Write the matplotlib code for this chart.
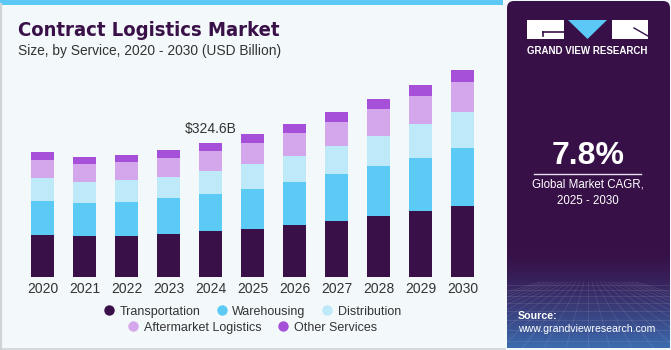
import numpy as np
import matplotlib
matplotlib.use("Agg")
import matplotlib.pyplot as plt
from matplotlib.patches import Rectangle, FancyBboxPatch, Polygon
from matplotlib.lines import Line2D

# ---------------- data ----------------
years = ["2020", "2021", "2022", "2023", "2024", "2025", "2026", "2027", "2028", "2029", "2030"]
transportation = [101.5, 98.3, 99.8, 104.6, 110.4, 116.8, 126.5, 136.3, 147.7, 159.1, 172.0]
warehousing = [82.7, 81.0, 82.7, 86.1, 90.8, 97.3, 103.9, 113.6, 121.7, 130.4, 141.1]
distribution = [56.0, 50.4, 52.0, 52.6, 56.0, 60.1, 64.0, 67.4, 73.7, 81.3, 87.6]
aftermarket = [43.8, 44.5, 43.8, 44.8, 47.9, 51.1, 56.0, 59.9, 65.0, 68.9, 73.7]
other_services = [19.5, 16.3, 17.8, 20.2, 19.5, 21.9, 21.2, 22.9, 24.3, 26.8, 29.2]
series_names = ["Transportation", "Warehousing", "Distribution", "Aftermarket Logistics", "Other Services"]
highlight_year = "2024"
highlight_label = "$324.6B"
cagr_text = "7.8%"
cagr_caption = "Global Market CAGR,\n2025 - 2030"

colors = ["#3a1049", "#5bcaf5", "#bde9f9", "#d4a7ec", "#a64fd8"]
FONT = "Liberation Sans"
W, H = 671, 350

fig = plt.figure(figsize=(W / 100, H / 100), dpi=100)
fig.patch.set_facecolor("#f3f8fb")

# background axes in pixel coordinates (y downwards)
bg = fig.add_axes([0, 0, 1, 1], zorder=0)
bg.set_xlim(0, W)
bg.set_ylim(H, 0)
bg.axis("off")

# left panel
bg.add_patch(Rectangle((0, 0), 505, 349, facecolor="#f3f8fb", edgecolor="none"))
bg.add_patch(Rectangle((0, 0), 503, 4.5, facecolor="#5bc8f5", edgecolor="none"))
bg.plot([0.8, 0.8], [4, 349], color="#cfd3d6", lw=1.6)
bg.plot([0, 505], [348.6, 348.6], color="#cfd3d6", lw=1.2)

# right panel
bg.add_patch(FancyBboxPatch((507, 1), 163, 347, boxstyle="round,pad=0,rounding_size=7",
                            facecolor="#371047", edgecolor="none"))
grad = np.linspace(0, 1, 100)[:, None]
c0 = np.array([0x37, 0x10, 0x47]) / 255
c1 = np.array([0x3c, 0x6c, 0xb0]) / 255
img = np.zeros((100, 2, 4))
img[:, :, :3] = c0 + (c1 - c0) * grad[:, :, None] ** 1.4
img[:, :, 3] = 1
bg.imshow(img, extent=[507, 670, 348, 250], aspect="auto", zorder=1, interpolation="bilinear")
for i in range(-12, 13):
    bg.plot([588 + i * 4, 588 + i * 22], [282, 348], color="white", alpha=0.10, lw=0.6, zorder=2)
for yy in [285, 290, 296, 303, 311, 320, 330, 341]:
    bg.plot([507, 670], [yy, yy], color="white", alpha=0.10, lw=0.6, zorder=2)

# logo
bg.add_patch(Rectangle((527, 20), 36.5, 19, facecolor="white", edgecolor="none", zorder=3))
bg.plot([543, 563.5], [31.5, 31.5], color="#371047", lw=1.2, zorder=4)
bg.plot([543, 543], [31.5, 36], color="#371047", lw=1.2, zorder=4)
bg.add_patch(Polygon([[568, 20], [607, 20], [587.5, 39]], closed=True,
                     facecolor="#5bc8f5", edgecolor="none", zorder=3))
bg.add_patch(Rectangle((611.5, 20), 36.5, 19, facecolor="white", edgecolor="none", zorder=3))
bg.plot([634, 648], [28, 36], color="#371047", lw=1.0, zorder=4)
bg.text(587.5, 51, "GRAND VIEW RESEARCH", color="white", fontsize=7.0, fontweight="bold",
        ha="center", va="center", family=FONT, zorder=3)

bg.text(588, 156, cagr_text, color="white", fontsize=23, fontweight="bold",
        ha="center", va="center", family=FONT, zorder=3)
bg.plot([534, 641], [173.5, 173.5], color="#e8e0ee", lw=1.0, zorder=3)
bg.text(588, 193, cagr_caption, color="white", fontsize=8.3, ha="center", va="center",
        family=FONT, linespacing=1.45, zorder=3)
bg.text(518, 316, "Source:", color="white", fontsize=7.7, fontweight="bold",
        ha="left", va="center", family=FONT, zorder=3)
bg.text(518, 329.5, "www.grandviewresearch.com", color="white", fontsize=7.6,
        ha="left", va="center", family=FONT, zorder=3)

# titles
bg.text(18, 36.5, "Contract Logistics Market", color="#3a1049", fontsize=14.5,
        fontweight="heavy", fontstretch="condensed", ha="left", va="baseline",
        family="DejaVu Sans")
bg.text(18, 54.5, "Size, by Service, 2020 - 2030 (USD Billion)", color="#333333",
        fontsize=9.9, ha="left", va="baseline", family=FONT)

# ---------------- chart ----------------
base_px, top_px = 276.7, 60.0
scale = 324.6 / 133.4
ax = fig.add_axes([0, (H - base_px) / H, 505 / W, (base_px - top_px) / H], zorder=2)
ax.patch.set_alpha(0)
x = np.arange(len(years))
ax.set_xlim((0 - 42.5) / 42, (505 - 42.5) / 42)
ax.set_ylim(0, (base_px - top_px) * scale)

data = [transportation, warehousing, distribution, aftermarket, other_services]
bottom = np.zeros(len(years))
for vals, col, name in zip(data, colors, series_names):
    ax.bar(x, vals, width=0.55, bottom=bottom, color=col, label=name,
           edgecolor="none", zorder=2)
    bottom += np.array(vals)

hi = years.index(highlight_year)
ax.annotate(highlight_label, (x[hi], bottom[hi]), xytext=(0, 10), textcoords="offset points",
            ha="center", va="center", fontsize=10, color="#333333", family=FONT)

for s in ax.spines.values():
    s.set_visible(False)
ax.set_yticks([])
ax.set_xticks(x)
ax.set_xticklabels(years, fontsize=10, color="#333333", family=FONT)
ax.tick_params(axis="x", length=0, pad=4)

handles = [Line2D([], [], marker="o", ls="none", markersize=7.5, markerfacecolor=c,
                  markeredgecolor="none") for c in colors]
leg_kw = dict(frameon=False, loc="center", bbox_transform=fig.transFigure,
              handlelength=0.8, handletextpad=0.45, columnspacing=1.3,
              prop={"family": FONT, "size": 9}, labelcolor="#333333", borderpad=0,
              borderaxespad=0)
leg1 = ax.legend(handles[:3], series_names[:3], ncol=3,
                 bbox_to_anchor=(252.5 / W, (H - 311.7) / H), **leg_kw)
ax.add_artist(leg1)
ax.legend(handles[3:], series_names[3:], ncol=2,
          bbox_to_anchor=(252.5 / W, (H - 327.7) / H), **leg_kw)

fig.savefig("out.png", dpi=100, facecolor=fig.get_facecolor())
